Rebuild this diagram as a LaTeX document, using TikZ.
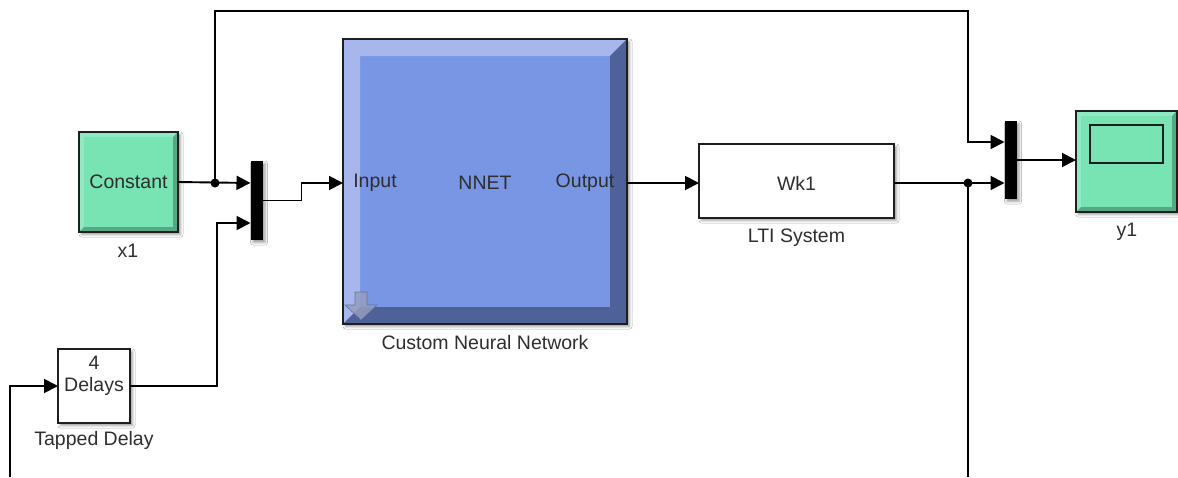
\documentclass[tikz,border=0pt]{standalone}
\usepackage{fontspec}
\setmainfont{Liberation Sans}
\usetikzlibrary{arrows.meta,calc,shadows.blur}

\definecolor{cgreen}{HTML}{78E3B3}
\definecolor{cgreenhi}{HTML}{8DEAC2}
\definecolor{cgreenlo}{HTML}{56A884}
\definecolor{nnface}{HTML}{7896E4}
\definecolor{nnhi}{HTML}{A7B7EE}
\definecolor{nnlo}{HTML}{4F6199}
\definecolor{txtgray}{HTML}{2E2E2E}
\definecolor{edge}{HTML}{1E1E1E}

\tikzset{
  blockedge/.style={draw=edge, line width=1.8pt},
  shadowed/.style={blur shadow={shadow xshift=2.5pt, shadow yshift=-2.5pt,
      shadow blur radius=2.5pt, shadow opacity=40}},
  blk/.style={blockedge, outer sep=0pt, inner sep=0pt, shadowed,
      font=\fontsize{19.5}{22}\selectfont, text=txtgray},
  muxbar/.style={fill=black, draw=none, outer sep=0pt, minimum width=12pt,
      minimum height=79pt, shadowed},
  txt/.style={font=\fontsize{19.5}{22}\selectfont, text=txtgray, inner sep=0pt},
  wire/.style={line width=1.9pt},
  sig/.style={wire, -{Triangle[length=14pt,width=14pt]}},
  junction/.style={circle, fill=black, inner sep=0pt, minimum size=9pt},
}

% bevelled block face: node, bevel depth, highlight colour, shade colour
\newcommand\drawbevel[4]{%
  \fill[#3] (#1.north west) -- (#1.north east) -- ($(#1.north east)+(-#2,#2)$)
    -- ($(#1.north west)+(#2,#2)$) -- ($(#1.south west)+(#2,-#2)$)
    -- (#1.south west) -- cycle;
  \fill[#4] (#1.south east) -- (#1.north east) -- ($(#1.north east)+(-#2,#2)$)
    -- ($(#1.south east)+(-#2,-#2)$) -- ($(#1.south west)+(#2,-#2)$)
    -- (#1.south west) -- cycle;
  \draw[blockedge] (#1.north west) rectangle (#1.south east);
}

\begin{document}
\begin{tikzpicture}[x=1pt, y=-1pt]
  \useasboundingbox (0,0) rectangle (1178,477);
  \fill[white] (0,0) rectangle (1178,477);

  % routing points
  \coordinate (jA)   at (215,183);
  \coordinate (jB)   at (968,183);
  \coordinate (topL) at (215,11);
  \coordinate (topR) at (968,11);
  \coordinate (fbk)  at (968,142);
  \coordinate (bend) at (217,223);
  \coordinate (botL) at (10,477);
  \coordinate (botR) at (968,477);

  % Constant source
  \node[blk, fill=cgreen, minimum width=99pt, minimum height=100pt] (const) at (128.5,182) {};
  \drawbevel{const}{5}{cgreenhi}{cgreenlo}
  \node[txt] (consttxt) at (const.center) {Constant};
  \node[txt] (x1) at (128,251) {x1};

  % Tapped delay
  \node[blk, fill=white, minimum width=72pt, minimum height=74pt] (delay) at (94,386) {};
  \node[txt, align=center] (delaytxt) at (94,376) {4\\Delays};
  \node[txt] (delaycap) at (94,440) {Tapped Delay};

  % Mux blocks
  \node[muxbar] (mux1) at (256.5,200.5) {};
  \node[muxbar, minimum height=78pt] (mux2) at (1010.5,160) {};

  % Neural network block
  \node[blk, fill=nnface, minimum width=284pt, minimum height=285pt] (nnet) at (485,181.5) {};
  \drawbevel{nnet}{17}{nnhi}{nnlo}
  \node[txt] (nnin)  at (375,183) {Input};
  \node[txt] (nnmid) at (485,183) {NNET};
  \node[txt] (nnout) at (585,183) {Output};
  \node[txt] (nncap) at (485,343) {Custom Neural Network};
  \fill[nnhi!55!gray, draw=nnlo!60!gray, line width=0.6pt, opacity=0.85]
    (355,292) -- (367,292) -- (367,305) -- (377,305) -- (361,320)
    -- (345,305) -- (355,305) -- cycle;

  % LTI system
  \node[blk, fill=white, minimum width=195pt, minimum height=74pt] (lti) at (796.5,181) {};
  \node[txt] (ltitxt) at (796.5,183) {Wk1};
  \node[txt] (lticap) at (796.5,238) {LTI System};

  % Scope
  \node[blk, fill=cgreen, minimum width=101pt, minimum height=101pt] (scope) at (1126.5,161.5) {};
  \drawbevel{scope}{5}{cgreenhi}{cgreenlo}
  \node[blockedge, fill=cgreen, outer sep=0pt, inner sep=0pt,
        minimum width=73pt, minimum height=38pt] (screen) at (1126.5,144) {};
  \node[txt] (y1) at (1127,232) {y1};

  % signal lines
  \draw[sig] (const.east) -- (mux1.west |- jA);
  \draw[sig] (jA) -- (topL) -- (topR) -- (fbk) -- (mux2.west |- fbk);
  \draw[sig] (delay.east) -| (bend) -- (mux1.west |- bend);
  \draw[sig] (mux1.east) -- ++(39,0) |- (nnet.west |- jA);
  \draw[sig] (nnet.east |- jA) -- (lti.west |- jA);
  \draw[sig] (lti.east |- jB) -- (mux2.west |- jB);
  \draw[wire] (jB) -- (botR);
  \draw[sig] (mux2.east) -- (scope.west |- mux2.east);
  \draw[sig] (botL) |- (delay.west);

  % branch points
  \node[junction] (dotA) at (jA) {};
  \node[junction] (dotB) at (jB) {};
\end{tikzpicture}
\end{document}
